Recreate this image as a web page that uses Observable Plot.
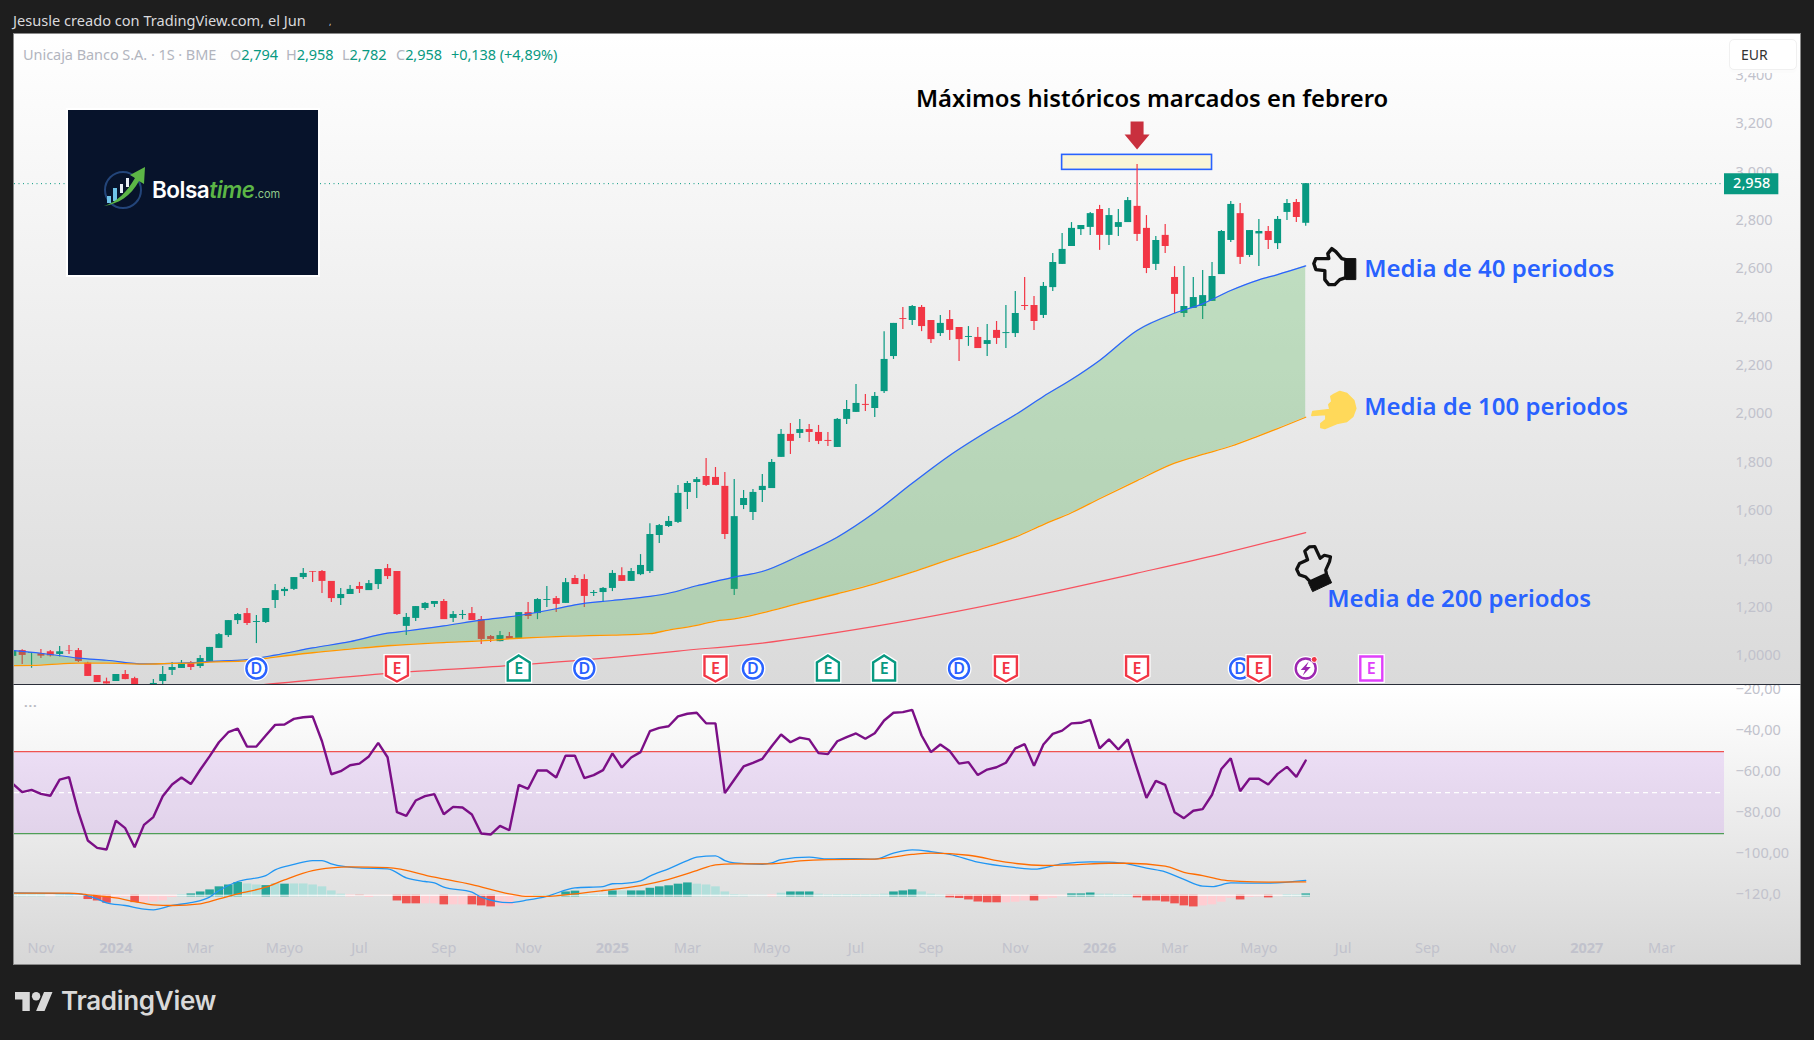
<!DOCTYPE html>
<html lang="es">
<head>
<meta charset="utf-8">
<title>Unicaja Banco S.A.</title>
<script src="https://cdn.jsdelivr.net/npm/d3@7"></script>
<script src="https://cdn.jsdelivr.net/npm/@observablehq/plot@0.6"></script>
<style>
html,body{margin:0;padding:0;width:1814px;height:1040px;overflow:hidden;background:#1e1e1e;font-family:"Noto Sans",sans-serif}
#page{position:relative;width:1814px;height:1040px;overflow:hidden}
.abs{position:absolute;white-space:nowrap}
#paneTop{position:absolute;left:13px;top:33px;width:1788px;height:651px;background:linear-gradient(#ffffff,#dadada);border:1px solid #8a8a8a;border-bottom:0;box-sizing:border-box}
#paneBottom{position:absolute;left:13px;top:684px;width:1788px;height:281px;background:linear-gradient(#ffffff 1%,#d7d7d7);border:1px solid #8a8a8a;border-top:1px solid #2a2e39;box-sizing:border-box}
svg.plot{position:absolute;left:0;background:transparent}
.leg{font-size:14.5px;top:43.5px;color:#b2b5be;letter-spacing:-.05px}
.leg b{font-weight:400;color:#089981}
</style>
</head>
<body>
<div id="page">
<div class="abs" style="left:13px;top:10px;font-size:14.6px;color:#d9d9dc">Jesusle creado con TradingView.com, el Jun</div>
<div class="abs" style="left:329px;top:15px;font-size:9px;color:#d9d9dc">,</div>
<div id="paneTop"></div>
<div id="paneBottom"></div>
<div id="plots"></div>
<div class="abs leg" style="left:23px">Unicaja Banco S.A. · 1S · BME</div>
<div class="abs leg" style="left:230px">O<b>2,794</b></div>
<div class="abs leg" style="left:286px">H<b>2,958</b></div>
<div class="abs leg" style="left:342px">L<b>2,782</b></div>
<div class="abs leg" style="left:396px">C<b>2,958</b></div>
<div class="abs leg" style="left:451px"><b>+0,138 (+4,89%)</b></div>
<div class="abs" style="left:24px;top:696px;font-size:13px;font-weight:700;letter-spacing:.8px;color:#b9bac2">···</div>
<div class="abs" style="left:1729px;top:39px;width:68px;height:31px;background:#fff;border:1px solid #f0f0f0;border-radius:5px;box-sizing:border-box;box-shadow:0 3px 0 #fbfbfb;color:#333;font-size:14px;line-height:30px;padding-left:11px">EUR</div>
<div class="abs" style="left:68px;top:110px;width:250px;height:165px;background:#07132b;box-shadow:0 0 0 2px #fff">
  <svg width="46" height="44" viewBox="0 0 46 44" style="position:absolute;left:35px;top:56px">
    <circle cx="20" cy="24" r="18" fill="none" stroke="#23457a" stroke-width="2"/>
    <rect x="4" y="30" width="4" height="7" fill="#6fc3e8"/><rect x="10" y="22" width="4" height="13" fill="#6fc3e8"/>
    <rect x="17" y="18" width="3" height="9" fill="#e9eef5"/><rect x="23" y="12" width="3" height="9" fill="#e9eef5"/>
    <path d="M1 40 C14 36 24 26 32 12 L27 9 L42 1 L41 18 L36 15 C28 30 15 38 1 40Z" fill="#5cb646"/>
  </svg>
  <div class="abs" style="left:84px;top:66px;font-family:Inter,sans-serif;font-size:22.5px;font-weight:600;color:#fff;letter-spacing:-.5px">Bolsa<span style="color:#5cb646;font-style:italic">time</span><span style="color:#8fc98a;font-size:11px;font-style:normal;font-weight:400;letter-spacing:0">.com</span></div>
</div>
<svg class="abs" width="38" height="19" viewBox="0 4 36 18" style="left:15px;top:992px"><path fill="#d9d9d9" d="M14 22H7V11H0V4h14v18zM28 22h-8l7.5-18h8L28 22z"/><circle fill="#d9d9d9" cx="20" cy="8" r="4"/></svg>
<div class="abs" style="left:61px;top:985px;font-family:Inter,sans-serif;font-size:26px;font-weight:600;color:#d9d9d9;letter-spacing:-.3px">TradingView</div>
</div>
<script>
// ---- Weekly candles (bar 0 … bar 138), EUR
const open = [1.003,1.027,1.015,1.014,1.022,1.011,1.027,1.027,0.975,0.924,
0.898,0.899,0.928,0.911,0.870,0.860,0.899,0.945,0.953,0.974,
0.961,0.982,1.036,1.089,1.151,1.180,1.143,1.143,1.234,1.271,
1.280,1.329,1.354,1.354,1.313,1.242,1.259,1.292,1.275,1.300,
1.366,1.354,1.127,1.160,1.201,1.218,1.230,1.160,1.172,1.180,
1.155,1.085,1.064,1.085,1.077,1.184,1.180,1.234,1.242,1.222,
1.325,1.321,1.263,1.267,1.284,1.337,1.313,1.341,1.354,1.503,
1.540,1.557,1.681,1.722,1.747,1.743,1.706,1.280,1.627,1.598,
1.689,1.697,1.826,1.921,1.925,1.941,1.929,1.896,1.867,1.983,
2.012,2.045,2.028,2.098,2.243,2.400,2.392,2.446,2.392,2.338,
2.396,2.363,2.322,2.322,2.293,2.351,2.338,2.338,2.454,2.454,
2.413,2.528,2.624,2.698,2.768,2.777,2.851,2.744,2.777,2.797,
2.864,2.773,2.624,2.744,2.570,2.421,2.442,2.450,2.471,2.582,
2.723,2.834,2.661,2.750,2.760,2.710,2.839,2.880,2.794];
const high = [1.030,1.030,1.019,1.031,1.027,1.044,1.048,1.036,0.979,0.924,
0.913,0.928,0.945,0.917,0.875,0.907,0.961,0.978,0.986,0.982,
1.007,1.040,1.098,1.151,1.180,1.201,1.172,1.201,1.300,1.288,
1.329,1.366,1.354,1.358,1.313,1.284,1.296,1.309,1.317,1.362,
1.383,1.354,1.180,1.209,1.226,1.230,1.238,1.189,1.193,1.205,
1.168,1.089,1.106,1.102,1.184,1.226,1.242,1.292,1.251,1.325,
1.337,1.341,1.275,1.288,1.358,1.370,1.366,1.424,1.552,1.548,
1.581,1.710,1.726,1.743,1.821,1.784,1.763,1.734,1.689,1.693,
1.755,1.817,1.941,1.966,1.983,1.962,1.958,1.929,1.987,2.061,
2.127,2.086,2.094,2.346,2.380,2.446,2.454,2.454,2.392,2.413,
2.433,2.363,2.367,2.363,2.376,2.388,2.454,2.512,2.570,2.491,
2.549,2.669,2.752,2.797,2.785,2.839,2.868,2.855,2.851,2.901,
3.037,2.826,2.739,2.789,2.615,2.615,2.570,2.599,2.632,2.764,
2.884,2.876,2.764,2.810,2.781,2.822,2.892,2.892,2.958];
const low = [1.003,0.969,0.954,0.994,1.000,1.000,1.011,0.978,0.920,0.895,
0.889,0.899,0.906,0.870,0.855,0.855,0.880,0.924,0.953,0.945,
0.953,0.982,1.036,1.081,1.135,1.131,1.056,1.139,1.201,1.251,
1.275,1.321,1.309,1.263,1.226,1.213,1.259,1.263,1.275,1.280,
1.321,1.172,1.089,1.147,1.193,1.205,1.155,1.143,1.155,1.151,
1.052,1.060,1.064,1.074,1.077,1.155,1.155,1.205,1.184,1.222,
1.300,1.205,1.251,1.226,1.271,1.313,1.313,1.337,1.346,1.470,
1.536,1.553,1.610,1.656,1.706,1.710,1.486,1.255,1.610,1.565,
1.639,1.697,1.826,1.838,1.904,1.888,1.879,1.871,1.867,1.962,
2.012,2.016,1.991,2.090,2.231,2.355,2.371,2.346,2.297,2.326,
2.309,2.222,2.285,2.276,2.243,2.293,2.276,2.322,2.433,2.351,
2.400,2.512,2.624,2.698,2.744,2.744,2.682,2.702,2.739,2.797,
2.719,2.586,2.599,2.669,2.421,2.404,2.442,2.396,2.471,2.582,
2.715,2.624,2.653,2.615,2.686,2.686,2.806,2.797,2.782];
const close = [1.025,1.007,1.018,1.004,1.005,1.022,1.025,0.982,0.920,0.895,
0.889,0.928,0.907,0.875,0.860,0.891,0.928,0.957,0.974,0.957,
0.994,1.040,1.093,1.151,1.176,1.139,1.147,1.201,1.275,1.280,
1.329,1.346,1.351,1.313,1.242,1.259,1.280,1.280,1.304,1.362,
1.333,1.176,1.164,1.209,1.222,1.230,1.155,1.176,1.176,1.151,
1.073,1.073,1.089,1.074,1.184,1.168,1.238,1.238,1.218,1.308,
1.300,1.251,1.267,1.284,1.346,1.313,1.354,1.379,1.507,1.544,
1.561,1.677,1.718,1.734,1.710,1.710,1.507,1.581,1.656,1.681,
1.706,1.805,1.921,1.892,1.941,1.929,1.892,1.892,1.983,2.024,
2.049,2.041,2.078,2.231,2.380,2.396,2.450,2.367,2.313,2.380,
2.351,2.313,2.326,2.276,2.309,2.318,2.342,2.421,2.450,2.388,
2.533,2.632,2.686,2.773,2.785,2.834,2.744,2.826,2.797,2.888,
2.748,2.607,2.723,2.698,2.500,2.450,2.487,2.495,2.574,2.760,
2.872,2.653,2.764,2.760,2.723,2.810,2.876,2.818,2.958];

// ---- Moving averages, read at these bars
const maBars = [0,3,7,10,14,17,19,21,25,28,32,36,40,42,46,50,54,58,60,64,68,70,73,75,77,80,84,88,92,96,100,104,107,110,113,116,120,124,127,130,133,135,138];
const ma40 = [1.027,1.016,0.996,0.987,0.972,0.974,0.977,0.982,0.990,1.008,1.038,1.064,1.099,1.108,1.129,1.153,1.172,1.200,1.216,1.234,1.251,1.264,1.295,1.313,1.331,1.354,1.420,1.496,1.598,1.719,1.834,1.933,2.002,2.078,2.148,2.227,2.351,2.422,2.461,2.516,2.560,2.582,2.618];
const ma100 = [0.965,0.967,0.975,0.975,0.971,0.974,0.975,0.979,0.984,1.000,1.018,1.033,1.047,1.052,1.060,1.067,1.078,1.085,1.087,1.091,1.097,1.112,1.131,1.149,1.158,1.183,1.223,1.262,1.303,1.351,1.404,1.455,1.496,1.548,1.597,1.655,1.730,1.802,1.838,1.872,1.915,1.945,1.992];
const ma200Bars = [20,27,40,53,65,71,80,92,112,120,129,138];
const ma200 = [0.865,0.887,0.933,0.965,1.002,1.025,1.058,1.127,1.278,1.347,1.427,1.515];

// ---- Oscillator pane
const rsi = [-65.7,-69.7,-68.6,-70.6,-71.5,-63.6,-62.4,-79.5,-93.3,-96.9,-97.7,-83.6,-87.3,-96.6,-85.7,-81.9,-71.7,-66.0,-62.6,-65.8,
-58.8,-52.3,-45.4,-40.5,-38.7,-47.5,-47.5,-42.1,-36.9,-36.7,-34.0,-33.2,-32.8,-44.9,-61.0,-59.5,-56.6,-55.8,-52.3,-45.7,
-52.7,-79.5,-81.3,-73.8,-71.7,-70.7,-80.5,-76.9,-77.2,-80.6,-89.9,-90.4,-86.2,-88.3,-66.2,-68.1,-59.2,-59.2,-62.6,-51.9,
-52.0,-62.9,-61.4,-59.0,-50.8,-57.7,-52.8,-50.2,-40.0,-38.4,-37.6,-32.8,-31.5,-31.0,-36.1,-36.2,-70.2,-63.7,-57.2,-55.4,
-53.5,-47.3,-41.6,-45.4,-43.1,-44.0,-50.7,-51.2,-44.9,-42.9,-41.1,-43.7,-41.0,-34.8,-31.0,-30.7,-29.6,-42.1,-50.2,-46.5,
-49.7,-55.8,-55.1,-61.4,-58.7,-57.6,-55.4,-48.4,-46.3,-56.9,-46.5,-41.3,-39.7,-36.2,-35.9,-34.5,-48.4,-44.0,-48.9,-44.0,
-58.4,-72.5,-64.2,-66.2,-79.5,-82.4,-78.8,-78.0,-71.0,-58.4,-53.2,-69.3,-63.2,-63.2,-66.0,-60.8,-57.4,-62.3,-54.3];
const macdBars = [0,7,9,10,12,14,15,17,19,21,22,24,27,28,30,32,33,34,37,40,42,44,45,46,49,50,53,55,57,60,63,64,65,67,68,70,72,73,75,76,77,80,81,82,85,87,90,92,94,96,98,100,103,107,109,112,115,117,119,121,123,125,127,128,130,134,138];
const macdLine = [-118.8,-119.3,-121.8,-123.7,-125.0,-126.8,-127.1,-125.0,-123.6,-120.9,-117.7,-113.3,-110.4,-107.6,-105.0,-103.1,-103.1,-104.7,-106.7,-107.1,-111.5,-113.3,-114.0,-116.1,-118.5,-120.9,-123.6,-122.3,-120.5,-116.4,-115.8,-114.4,-114.3,-113.0,-110.7,-107.1,-103.1,-101.4,-100.8,-103.1,-104.2,-104.9,-104.2,-102.6,-101.4,-102.3,-102.1,-102.4,-99.5,-97.9,-98.7,-100.1,-103.9,-106.5,-107.3,-104.7,-103.7,-103.9,-104.7,-106.8,-108.6,-112.3,-115.6,-115.8,-114.0,-114.1,-112.8];
const signalBars = [0,6,8,11,13,15,17,20,22,24,27,29,32,34,36,40,45,49,53,55,57,59,63,67,70,73,75,77,81,84,87,92,96,98,102,106,110,113,117,119,123,125,127,129,131,134,138];
const signalLine = [-119.0,-119.0,-119.8,-121.3,-123.1,-124.7,-125.0,-124.2,-121.8,-119.3,-116.1,-112.5,-108.0,-106.7,-106.2,-106.5,-111.2,-114.8,-119.3,-120.6,-120.6,-119.8,-117.7,-115.3,-112.3,-108.0,-105.2,-104.7,-104.7,-103.2,-102.6,-102.4,-100.1,-99.5,-100.5,-103.9,-105.5,-105.2,-104.4,-104.4,-105.8,-108.8,-110.4,-112.5,-113.2,-113.6,-113.5];
const histogram = [.3,.3,.3,.3,-.3,.3,.3,-.3,-2.1,-2.8,-3.9,-2.0,-1.1,-3.6,-3.6,-3.4,-2.8,-1.1,.3,.65,
1.6,2.6,4.1,5.0,6.2,5.5,5.0,4.7,5.7,5.4,5.5,5.5,5.0,4.1,2.1,.5,.2,-.3,-1.1,-.3,
-.3,-2.8,-4.2,-4.2,-4.2,-4.2,-4.7,-4.7,-4.7,-4.7,-5.2,-5.7,-5.2,-5.2,-1.1,-.8,.3,.3,.2,1.6,
2.0,.3,.3,.3,2.1,2.1,2.1,2.1,3.4,4.1,4.6,5.4,6.0,5.4,5.0,4.1,1.6,.3,.1,-.3,
-.3,.2,1.0,1.6,1.6,1.6,.5,.2,.3,.3,.3,.2,.2,.5,1.6,2.1,2.6,1.6,.5,.1,
-1.3,-1.6,-2.3,-3.3,-3.7,-3.7,-3.7,-3.4,-2.8,-2.8,-2.1,-1.5,-.6,.65,.65,1.1,.5,.5,.2,.3,
-1.3,-2.8,-2.8,-3.3,-4.2,-5.2,-5.7,-5.2,-4.7,-3.4,-1.5,-2.3,-1.1,-.8,-1.3,-.3,.3,.2,.65];
const histogramKinds = "ggggrggrRRRrrRrrrrgG"+"GGGGGggGgGggggggrRrr"+"rRRRrrRrrRRRrrrrgggG"+"GgggGgGGGGGGGggggggg"+"grgGGGggggggggGGGggg"+"RRRRRRrrrRrrrGGGgggg"+"RRRRRRRrrrrRrrRrggG";

// ---- Axes
const priceTicks = [3.4,3.2,3.0,2.8,2.6,2.4,2.2,2.0,1.8,1.6,1.4,1.2,1.0];
const priceLabels = ["3,400","3,200","3,000","2,800","2,600","2,400","2,200","2,000","1,800","1,600","1,400","1,200","1,0000"];
const oscTicks = [-20,-40,-60,-80,-100,-120];
const oscLabels = ["−20,00","−40,00","−60,00","−80,00","−100,00","−120,0"];
const monthBars = [3,20,29,37,46,55,72,81,90,98,107,124,133,142,151,159,176];
const monthLabels = ["Nov","Mar","Mayo","Jul","Sep","Nov","Mar","Mayo","Jul","Sep","Nov","Mar","Mayo","Jul","Sep","Nov","Mar"];
const yearBars = [11,64,116,168];
const yearLabels = ["2024","2025","2026","2027"];

// ---- Chart events
const dividendBars = [26,61,79,101,131];
const earningsDownBars = [41,75,106,120,133];
const earningsUpBars = [54,87,93];
const alertBars = [138];
const futureEarningsBars = [145];
const eventPrice = 0.953;

// ---- Annotations
const lastPrice = 2.958;
const highBox = {x1:112, x2:128, y1:3.015, y2:3.077};
const titleNote = {bar:121.6, price:3.306, text:"Máximos históricos marcados en febrero"};
const maNotes = [
  {bar:144.25, price:2.603, text:"Media de 40 periodos"},
  {bar:144.25, price:2.033, text:"Media de 100 periodos"},
  {bar:140.3, price:1.240, text:"Media de 200 periodos"}
];

const FONT = '"Noto Sans",sans-serif';
const AXIS = "#c1c2cc";
const UP = "#089981", DOWN = "#f23645";
const xDomain = [0.18, 182.7];

const candles = open.map((o,i)=>({bar:i,o,h:high[i],l:low[i],c:close[i],color:close[i]>=o?UP:DOWN}));
const maTable = maBars.map((bar,i)=>({bar,a:ma40[i],b:ma100[i]}));
const ma200Table = ma200Bars.map((bar,i)=>({bar,v:ma200[i]}));
const kindColor = {G:"#26a69a",g:"#b2dfdb",R:"#ef5350",r:"#ffcdd2"};
const histTable = histogram.map((v,i)=>({bar:i,v,color:kindColor[histogramKinds[i]]}));

// Custom marker shapes for Plot.dot (r:10 gives local pixel units)
function poly(points, rot=0){
  const t=rot*Math.PI/180, c=Math.cos(t), s=Math.sin(t);
  return {draw(ctx,size){
    const k=Math.sqrt(size/Math.PI)/10;
    points.forEach(([x,y],i)=>{const X=(x*c-y*s)*k,Y=(x*s+y*c)*k; i?ctx.lineTo(X,Y):ctx.moveTo(X,Y);});
    ctx.closePath();
  }};
}
const shield = poly([[-11,-12],[11,-12],[11,7],[0,13],[-11,7]]);
const house = poly([[0,-13],[11,-6],[11,12],[-11,12],[-11,-6]]);
const square = poly([[-11,-12],[11,-12],[11,12],[-11,12]]);
const bolt = poly([[3,-7],[-5,1.5],[-.5,1.5],[-3,7],[5,-1.5],[.5,-1.5]]);
const downArrow = poly([[-6.5,-14],[6.5,-14],[6.5,-1],[12.5,-1],[0,14],[-12.5,-1],[-6.5,-1]]);
const handOutline = [[-20,-3],[-18,-8],[-5,-8],[-6,-13],[-2,-18],[2,-15],[8,-8],[12,-7],[12,11],[6,13],[1,18],[-5,18],[-9,13],[-9,4],[-18,3]];
const cuff = [[12,-8],[22,-8],[22,13],[12,13]];
const yellowHand = [[-22,6],[-21,2],[-4,0],[-5,-5],[-2,-8],[-3,-13],[0,-15],[6,-18],[13,-16],[20,-9],[22,-1],[19,7],[13,12],[3,14],[-9,19],[-13,18],[-13,14],[-8,10],[-8,5]];

function eventMarks(bars, symbol, color, letter){
  const y=()=>eventPrice, base={x:d=>d,y,r:10,symbol};
  const marks=[
    Plot.dot(bars,{...base,fill:"#fff",stroke:"#fff",strokeWidth:5}),
    Plot.dot(bars,{...base,fill:"#fff",stroke:color,strokeWidth:2.4})
  ];
  if(letter) marks.push(Plot.text(bars,{x:d=>d,y,text:()=>letter,fill:color,fontSize:16,fontWeight:600,fontFamily:FONT,dy:.5}));
  return marks;
}

const topPlot = Plot.plot({
  width:1814,height:650,marginLeft:14,marginRight:90,marginTop:0,marginBottom:0,
  style:{background:"transparent",fontFamily:FONT,position:"absolute",left:"0",top:"34px"},
  x:{domain:xDomain,axis:null},
  y:{domain:[0.8867,3.5748],axis:null},
  marks:[
    Plot.axisY(priceTicks,{anchor:"right",tickSize:0,tickPadding:11,fontSize:14.5,color:AXIS,label:null,dy:-1.5,
      tickFormat:d=>priceLabels[priceTicks.indexOf(d)]}),
    Plot.ruleY([lastPrice],{stroke:UP,strokeWidth:1,strokeDasharray:"1,3.5"}),
    Plot.ruleY([lastPrice],{x1:()=>182.7,x2:()=>188.5,stroke:UP,strokeWidth:21}),
    Plot.text([lastPrice],{x:()=>185.6,y:d=>d,text:()=>"2,958",fill:"#fff",fontSize:14.5,fontWeight:500,dy:-.5}),
    Plot.rect([highBox],{x1:"x1",x2:"x2",y1:"y1",y2:"y2",fill:"#faf5d8",stroke:"#2962ff",strokeWidth:1.6}),
    Plot.ruleX(candles,{x:"bar",y1:"l",y2:"h",stroke:"color",strokeWidth:1.2,clip:true}),
    Plot.ruleX(candles,{x:"bar",y1:"o",y2:"c",stroke:"color",strokeWidth:7,clip:true}),
    Plot.areaY(maTable,{x:"bar",y1:"a",y2:"b",fill:"#4caf50",fillOpacity:.3,curve:"monotone-x",clip:true}),
    Plot.line(maTable,{x:"bar",y:"a",stroke:"#2962ff",strokeWidth:1.2,curve:"monotone-x",clip:true}),
    Plot.line(maTable,{x:"bar",y:"b",stroke:"#ff9800",strokeWidth:1.3,curve:"monotone-x",clip:true}),
    Plot.line(ma200Table,{x:"bar",y:"v",stroke:"#f7525f",strokeWidth:1.2,curve:"monotone-x",clip:true}),
    ...eventMarks(dividendBars,"circle","#2962ff","D"),
    ...eventMarks(earningsDownBars,shield,DOWN,"E"),
    ...eventMarks(earningsUpBars,house,UP,"E"),
    ...eventMarks(alertBars,"circle","#9c27b0",null),
    Plot.dot(alertBars,{x:d=>d,y:()=>eventPrice,r:10,symbol:bolt,fill:"#9c27b0"}),
    Plot.dot(alertBars,{x:d=>d,y:()=>eventPrice,r:3,fill:DOWN,stroke:"#fff",strokeWidth:1,dx:8.5,dy:-9}),
    ...eventMarks(futureEarningsBars,square,"#e040fb","E"),
    Plot.dot([120],{x:d=>d,y:()=>3.157,r:10,symbol:downArrow,fill:"#c9303e"}),
    Plot.text([titleNote],{x:"bar",y:"price",text:"text",fill:"#000",fontSize:23.8,fontWeight:600,fontFamily:FONT}),
    Plot.text(maNotes,{x:"bar",y:"price",text:"text",textAnchor:"start",fill:"#2962ff",fontSize:24,fontWeight:600,fontFamily:FONT}),
    Plot.dot([141],{x:d=>d,y:()=>2.615,r:10,symbol:poly(handOutline),fill:"none",stroke:"#111",strokeWidth:3.4,strokeLinejoin:"round"}),
    Plot.dot([141],{x:d=>d,y:()=>2.615,r:10,symbol:poly(cuff),fill:"#111",stroke:"#111",strokeWidth:1}),
    Plot.dot([141],{x:d=>d,y:()=>2.024,r:10,symbol:poly(yellowHand),fill:"#ffd95a",stroke:"#ffd95a",strokeWidth:1.5,strokeLinejoin:"round"}),
    Plot.dot([139],{x:d=>d,y:()=>1.376,r:10,symbol:poly(handOutline,65),fill:"none",stroke:"#111",strokeWidth:3.2,strokeLinejoin:"round"}),
    Plot.dot([139],{x:d=>d,y:()=>1.376,r:10,symbol:poly(cuff,65),fill:"#111",stroke:"#111",strokeWidth:1})
  ]
});

const bottomPlot = Plot.plot({
  width:1814,height:279,marginLeft:14,marginRight:90,marginTop:0,marginBottom:34,
  style:{background:"transparent",fontFamily:FONT,position:"absolute",left:"0",top:"685px"},
  x:{domain:xDomain,axis:null},
  y:{domain:[-137.2,-17.71],axis:null},
  marks:[
    Plot.axisY(oscTicks,{anchor:"right",tickSize:0,tickPadding:11,fontSize:14.5,color:AXIS,label:null,dy:-.7,
      tickFormat:d=>oscLabels[oscTicks.indexOf(d)]}),
    Plot.axisX(monthBars,{anchor:"bottom",tickSize:0,tickPadding:12,fontSize:14.5,color:AXIS,label:null,
      tickFormat:d=>monthLabels[monthBars.indexOf(d)]}),
    Plot.axisX(yearBars,{anchor:"bottom",tickSize:0,tickPadding:12,fontSize:14.5,fontWeight:700,color:AXIS,label:null,
      tickFormat:d=>yearLabels[yearBars.indexOf(d)]}),
    Plot.rect([[-50,-90]],{y1:d=>d[0],y2:d=>d[1],fill:"#9c27f0",fillOpacity:.115}),
    Plot.ruleY([-50],{stroke:"#ef5350",strokeWidth:1.2}),
    Plot.ruleY([-90],{stroke:"#4f9e57",strokeWidth:1.2}),
    Plot.ruleY([-70],{stroke:"#fff",strokeWidth:1.2,strokeDasharray:"5,4"}),
    Plot.ruleX(histTable,{x:"bar",y1:d=>d.v>0?-120.8:-120,y2:d=>-120+d.v,stroke:"color",strokeWidth:8.6,clip:true}),
    Plot.ruleY([-120],{x1:()=>0,x2:()=>138.5,stroke:"#fff",strokeWidth:1.2,clip:true}),
    Plot.line(macdBars.map((bar,i)=>({bar,v:macdLine[i]})),{x:"bar",y:"v",stroke:"#2196f3",strokeWidth:1.3,curve:"monotone-x",clip:true}),
    Plot.line(signalBars.map((bar,i)=>({bar,v:signalLine[i]})),{x:"bar",y:"v",stroke:"#ff6d00",strokeWidth:1.3,curve:"monotone-x",clip:true}),
    Plot.line(rsi,{x:(d,i)=>i,y:d=>d,stroke:"#7b0f86",strokeWidth:2.4,strokeLinejoin:"miter",clip:true})
  ]
});

document.getElementById("plots").append(topPlot,bottomPlot);
</script>
</body>
</html>
